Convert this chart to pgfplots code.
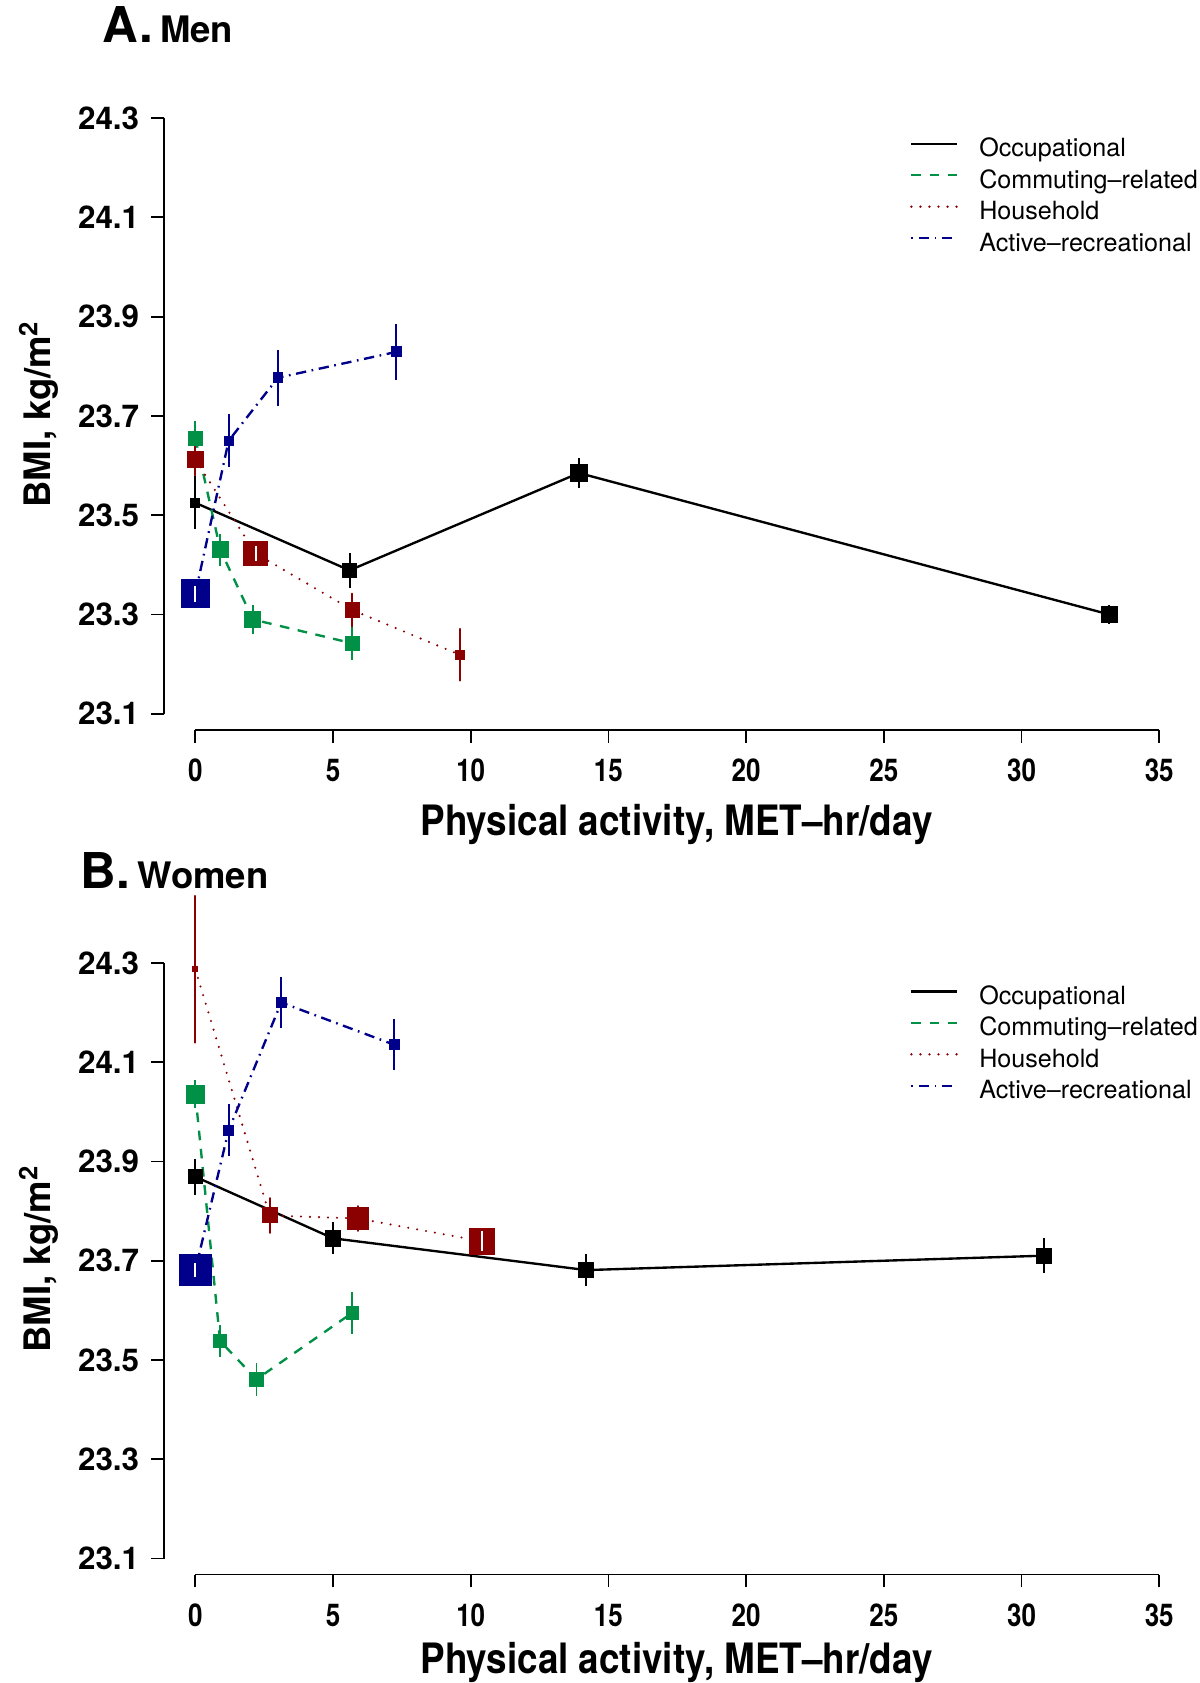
\documentclass[border=0pt]{standalone}
\usepackage{fontspec}
\setmainfont{TeX Gyre Heros}
\usepackage{pgfplots}
\pgfplotsset{compat=1.18}
\usepackage{pgfplotstable}

\definecolor{gcol}{RGB}{0,145,70}
\definecolor{rcol}{RGB}{139,0,0}
\definecolor{bcol}{RGB}{0,0,139}

% men
\pgfplotstableread{
x y e s
0 23.525 0.053 2.1
5.6 23.389 0.035 3.26
13.93 23.585 0.03 3.9
33.19 23.300 0.02 3.66
}\mocc
\pgfplotstableread{
x y e s
0 23.655 0.035 3.19
0.91 23.43 0.032 3.73
2.09 23.29 0.03 3.73
5.7 23.242 0.034 3.26
}\mcom
\pgfplotstableread{
x y e s
0 23.612 0.032 3.66
2.19 23.423 0 5.6
5.7 23.309 0.033 3.33
9.6 23.219 0.052 2.17
}\mhou
\pgfplotstableread{
x y e s
0 23.342 0 6.6
1.21 23.65 0.053 2.1
3.0 23.777 0.056 2.26
7.3 23.829 0.057 2.33
}\mact
% women
\pgfplotstableread{
x y e s
0 23.869 0.036 3.2
5.0 23.745 0.032 3.7
14.2 23.681 0.033 3.5
30.8 23.71 0.035 3.5
}\wocc
\pgfplotstableread{
x y e s
0 24.035 0.028 4.1
0.9 23.538 0.033 3.1
2.22 23.461 0.033 3.4
5.7 23.595 0.042 2.9
}\wcom
\pgfplotstableread{
x y e s
0 24.287 0.148 1.2
2.7 23.791 0.035 3.5
5.9 23.785 0.025 5.0
10.41 23.739 0 6.0
}\whou
\pgfplotstableread{
x y e s
0 23.681 0 7.4
1.21 23.963 0.052 2.3
3.12 24.22 0.051 2.3
7.22 24.135 0.051 2.3
}\wact

\pgfplotsset{
  panel/.style={
    scale only axis, width=463.5pt, height=285pt,
    xmin=-1.13, xmax=35, ymin=23.0676, ymax=24.3,
    clip=false,
    axis line style={draw=none},
    xtick={0,5,...,35}, xticklabels={0,5,10,15,20,25,30,35},
    ytick={23.1,23.3,23.5,23.7,23.9,24.1,24.3},
    yticklabels={23.1,23.3,23.5,23.7,23.9,24.1,24.3},
    xtick pos=bottom, ytick pos=left, tick align=outside,
    major tick length=6pt,
    every tick/.style={black, line width=0.8pt},
    xticklabel style={font=\fontsize{14.6}{17}\selectfont\bfseries, xscale=0.83, anchor=north, inner sep=0pt, yshift=-7.5pt},
    yticklabel style={font=\fontsize{14.6}{17}\selectfont\bfseries, anchor=east, inner sep=0pt, xshift=-5.5pt},
    every axis x label/.style={at={(axis description cs:0.515,-0.172)}, anchor=base, font=\fontsize{19.5}{22}\selectfont\bfseries, xscale=0.88},
    every axis y label/.style={at={(axis description cs:-0.126,0.516)}, rotate=90, anchor=center, font=\fontsize{17}{20}\selectfont\bfseries},
    xlabel={Physical activity, MET--hr/day},
    ylabel={BMI, kg/m\textsuperscript{2}},
    legend style={at={(axis description cs:0.7497,0.9667)}, anchor=north west, draw=none, fill=none,
      inner sep=0pt, outer sep=0pt, row sep=3.65pt, font=\fontsize{11.7}{14}\selectfont,
      nodes={inner sep=0pt, text height=8.5pt, text depth=2.5pt},
      /tikz/every odd column/.append style={column sep=10pt}},
    legend cell align=left,
    legend image code/.code={\draw[##1] (0pt,3pt) -- (21pt,3pt);},
  },
  ser/.style={
    color=#1, line width=1.1pt, forget plot,
    mark=square*, mark options={solid, line width=0pt, fill=#1, draw=#1},
    scatter, point meta=y,
    scatter/use mapped color={draw=#1, fill=#1},
    visualization depends on={\thisrow{s}\as\msz},
    scatter/@pre marker code/.append style={/tikz/mark size=\msz},
    /pgfplots/error bars/y dir=both,
    /pgfplots/error bars/y explicit,
    /pgfplots/error bars/error mark=none,
    /pgfplots/error bars/error bar style={solid, line width=0.9pt, #1},
  },
  % short white interval drawn inside the largest squares
  whitebar/.style={
    forget plot, only marks, mark=|,
    mark size=#1, mark options={solid, draw=white, line width=0.9pt},
  },
}

\newcommand{\legendlines}{%
  \addlegendimage{black, line width=1.1pt}
  \addlegendentry{Occupational}
  \addlegendimage{gcol, line width=1.1pt, dash pattern=on 4.5pt off 4pt}
  \addlegendentry{Commuting--related}
  \addlegendimage{rcol, line width=1.2pt, line cap=round, dash pattern=on 0pt off 4.2pt}
  \addlegendentry{Household}
  \addlegendimage{bcol, line width=1.1pt, dash pattern=on 0.8pt off 2.6pt on 4.8pt off 2.6pt}
  \addlegendentry{Active--recreational}
}
\newcommand{\axislines}{%
  \draw[line width=0.8pt] (axis cs:0,23.0676) -- (axis cs:35,23.0676);
  \draw[line width=0.8pt] (axis cs:-1.13,23.1) -- (axis cs:-1.13,24.3);
}

\begin{document}
\begin{tikzpicture}
\useasboundingbox (-76.5pt,55pt) rectangle (482.5pt,-729pt);

\begin{axis}[panel, at={(0pt,0pt)}, anchor=north west]
\axislines
\legendlines
\addplot[ser=black] table[x=x, y=y, y error=e] {\mocc};
\addplot[dash pattern=on 4.5pt off 4pt, ser=gcol] table[x=x, y=y, y error=e] {\mcom};
\addplot[line width=1.2pt, line cap=round, dash pattern=on 0pt off 4.2pt, ser=rcol] table[x=x, y=y, y error=e] {\mhou};
\addplot[dash pattern=on 4.8pt off 2.6pt on 0.8pt off 2.6pt, ser=bcol] table[x=x, y=y, y error=e] {\mact};
\addplot[whitebar=3.5pt] coordinates {(2.19,23.423)};
\addplot[whitebar=3.7pt] coordinates {(0,23.342)};
\end{axis}

\begin{axis}[panel, at={(0pt,-393.5pt)}, anchor=north west,
  every axis x label/.append style={at={(axis description cs:0.515,-0.161)}},
  legend style={at={(axis description cs:0.7497,0.9620)}}]
\axislines
\legendlines
\addplot[ser=black] table[x=x, y=y, y error=e] {\wocc};
\addplot[dash pattern=on 4.5pt off 4pt, ser=gcol] table[x=x, y=y, y error=e] {\wcom};
\addplot[line width=1.2pt, line cap=round, dash pattern=on 0pt off 4.2pt, ser=rcol] table[x=x, y=y, y error=e] {\whou};
\addplot[dash pattern=on 4.8pt off 2.6pt on 0.8pt off 2.6pt, ser=bcol] table[x=x, y=y, y error=e] {\wact};
\addplot[whitebar=4.6pt] coordinates {(10.41,23.739)};
\addplot[whitebar=3.3pt] coordinates {(0,23.681)};
\end{axis}

\node[anchor=base west, inner sep=0pt] at (-29pt,35pt) {\fontsize{23}{26}\selectfont\bfseries A.\hspace{3.5pt}\fontsize{17}{20}\selectfont Men};
\node[anchor=base west, inner sep=0pt] at (-39pt,-359pt) {\fontsize{23}{26}\selectfont\bfseries B.\hspace{3.5pt}\fontsize{17}{20}\selectfont Women};
\end{tikzpicture}
\end{document}
